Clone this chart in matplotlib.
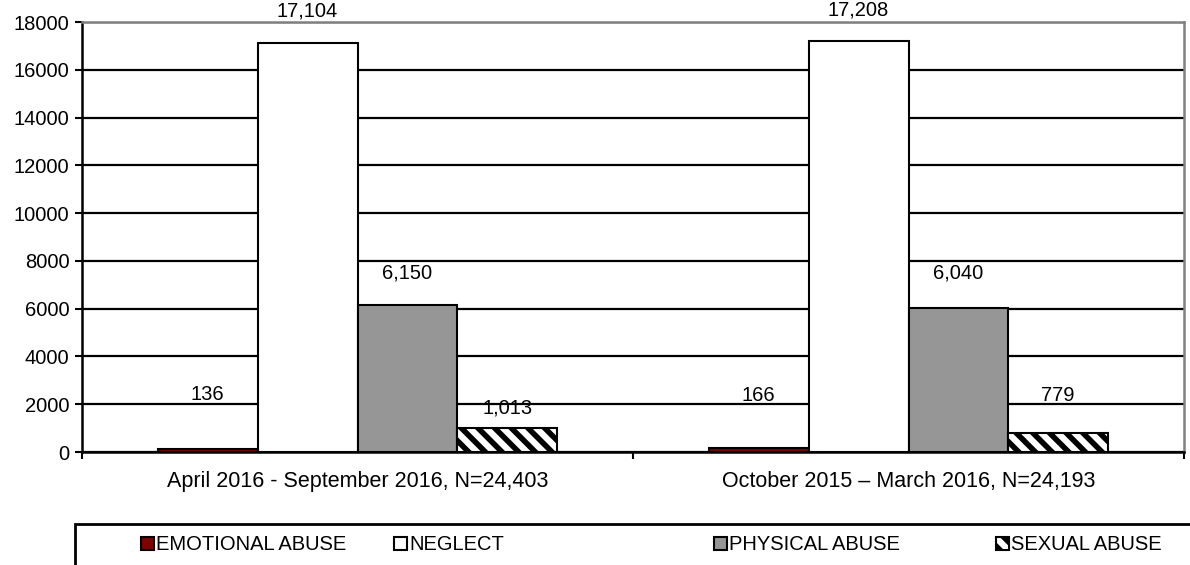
import numpy as np
import matplotlib.pyplot as plt
from matplotlib.patches import Patch, Rectangle

plt.rcParams['font.family'] = ['Liberation Sans', 'DejaVu Sans']
plt.rcParams['hatch.linewidth'] = 4.0

periods = ['April 2016 - September 2016, N=24,403',
           'October 2015 \u2013 March 2016, N=24,193']
series = ['EMOTIONAL ABUSE', 'NEGLECT', 'PHYSICAL ABUSE', 'SEXUAL ABUSE']
emotional = [136, 166]
neglect = [17104, 17208]
physical = [6150, 6040]
sexual = [1013, 779]
yticks = [0, 2000, 4000, 6000, 8000, 10000, 12000, 14000, 16000, 18000]

colors = ['#800000', 'white', '#969696', 'white']
hatches = [None, None, None, '\\\\']
# label offsets above bar top, in points (Excel placed them unevenly)
label_off = [[39, 38], [23, 22], [23, 25], [14, 27]]

fs = 14.5
fig = plt.figure(figsize=(11.9, 5.65), dpi=100)
ax = fig.add_axes([82/1190, 1-452/565, (1184-82)/1190, (452-22)/565])

x = np.arange(len(periods))
w = 100/552
data = [emotional, neglect, physical, sexual]
for i, vals in enumerate(data):
    pos = x + (i - 1.5) * w
    ax.bar(pos, vals, width=w, color=colors[i], edgecolor='black', linewidth=1.5,
           hatch=hatches[i], zorder=3)
    for j, v in enumerate(vals):
        ax.annotate(f'{v:,}', (pos[j], v), xytext=(0, label_off[i][j]),
                    textcoords='offset points', ha='center', va='center', fontsize=fs)

ax.set_xlim(-0.5, 1.5)
ax.set_ylim(0, 18000)
ax.set_yticks(yticks)
ax.set_yticklabels([str(t) for t in yticks], fontsize=fs)
ax.yaxis.grid(True, color='black', linewidth=1.6, zorder=0)
ax.set_axisbelow(True)
ax.tick_params(axis='y', direction='out', length=5, width=1.5, pad=4)

ax.set_xticks(x)
ax.set_xticklabels(periods, fontsize=15.5)
ax.tick_params(axis='x', which='major', length=0, pad=14)
ax.set_xticks([-0.5, 0.5, 1.5], minor=True)
ax.tick_params(axis='x', which='minor', direction='out', length=5, width=1.5)

for s in ['left', 'bottom']:
    ax.spines[s].set_linewidth(1.8)
    ax.spines[s].set_color('black')
for s in ['top', 'right']:
    ax.spines[s].set_linewidth(1.8)
    ax.spines[s].set_color('#808080')

# legend frame, open on the right and bottom like the source
fig.patches.append(Rectangle((75/1190, -0.1), 1.2, 1-524/565 + 0.1,
                             transform=fig.transFigure, fill=False,
                             edgecolor='black', linewidth=2))

leg_x = [141, 394, 714, 996]
for i, name in enumerate(series):
    h = Patch(facecolor=colors[i], edgecolor='black', hatch=hatches[i], linewidth=1.5)
    fig.legend([h], [name], loc='center left',
               bbox_to_anchor=(leg_x[i]/1190, 1-545/565), frameon=False,
               handlelength=0.65, handleheight=0.65, handletextpad=0.1,
               borderpad=0, borderaxespad=0, fontsize=fs)

plt.savefig('out.png', dpi=100)
